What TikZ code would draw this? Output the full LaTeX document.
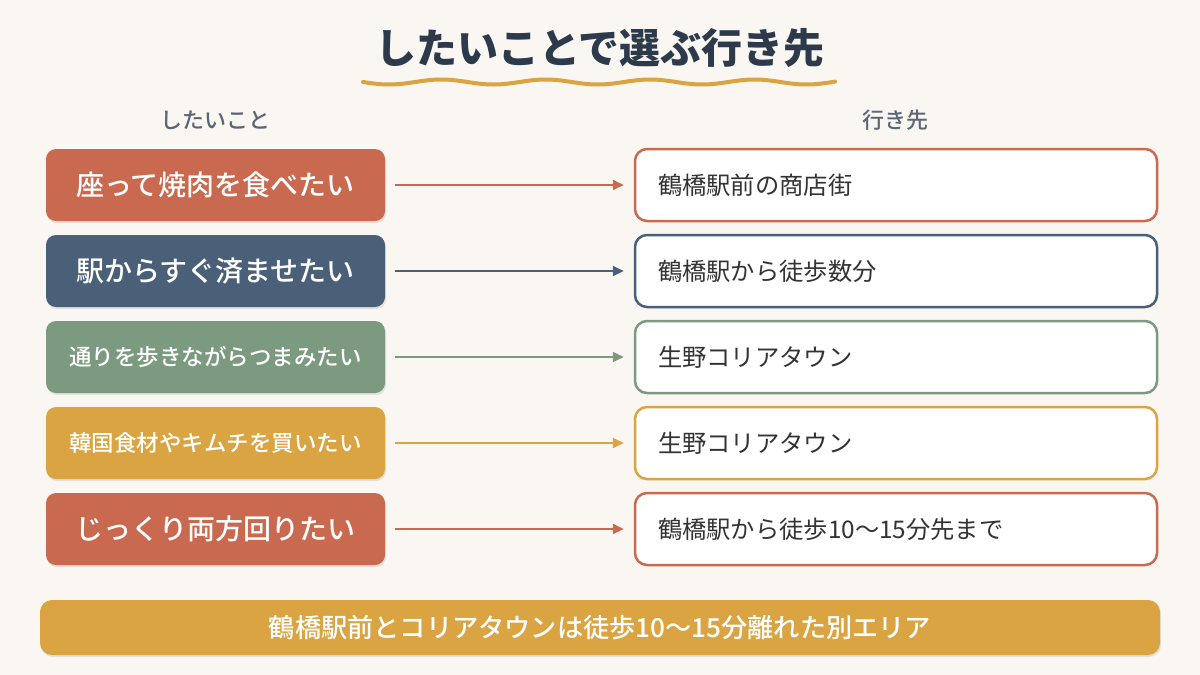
\documentclass[tikz,border=0pt]{standalone}
\usepackage{fontspec}
\setmainfont{Noto Sans CJK JP}
\newfontfamily\medfont{Noto Sans CJK JP}[UprightFont=* Medium]
\usetikzlibrary{shadows,arrows.meta}
\definecolor{bg}{HTML}{FAF6F1}
\definecolor{terra}{HTML}{C96A50}
\definecolor{slate}{HTML}{4A5F78}
\definecolor{sage}{HTML}{7B9A80}
\definecolor{gold}{HTML}{D9A441}
\definecolor{titlec}{HTML}{2C3A4B}
\definecolor{labelc}{HTML}{5A6676}
\definecolor{textc}{HTML}{333333}
\begin{document}
\begin{tikzpicture}[x=1pt,y=-1pt,
  lbox/.style={rounded corners=10pt, minimum width=339pt, minimum height=72pt, text=white, inner sep=0pt,
    drop shadow={opacity=0.18, shadow xshift=1pt, shadow yshift=-2pt}},
  big/.style={font=\fontsize{28}{32}\medfont},
  small/.style={font=\fontsize{22.5}{26}\medfont},
  rbox/.style={rounded corners=12pt, minimum width=522pt, minimum height=72pt, fill=white, line width=2.5pt,
    text width=476pt, align=left, inner xsep=23pt, inner ysep=0pt, text=textc, font=\fontsize{24.3}{27}\selectfont},
  arr/.style={line width=2pt, -{Triangle[length=11pt,width=10pt]}, shorten <=10pt, shorten >=10pt},
  colhead/.style={text=labelc, font=\fontsize{22}{25}\medfont}
]
\fill[bg] (0,0) rectangle (1200,675);
\useasboundingbox (0,0) rectangle (1200,675);

\node[text=titlec, font=\fontsize{41}{46}\selectfont\bfseries] (title) at (600,48) {したいことで選ぶ行き先};
\draw[gold, line width=4pt, line cap=round] plot[domain=363:835, samples=160, smooth] (\x, {82+2.5*sin((\x-363)*3.45)});

\node[colhead] (hl) at (215,120) {したいこと};
\node[colhead] (hr) at (895,120) {行き先};

\node[lbox, big, fill=terra] (l1) at (215.5,185) {座って焼肉を食べたい};
\node[lbox, big, fill=slate] (l2) at (215.5,271) {駅からすぐ済ませたい};
\node[lbox, small, fill=sage] (l3) at (215.5,357) {通りを歩きながらつまみたい};
\node[lbox, small, fill=gold] (l4) at (215.5,443) {韓国食材やキムチを買いたい};
\node[lbox, big, fill=terra] (l5) at (215.5,529) {じっくり両方回りたい};

\node[rbox, draw=terra] (r1) at (896,185) {鶴橋駅前の商店街};
\node[rbox, draw=slate] (r2) at (896,271) {鶴橋駅から徒歩数分};
\node[rbox, draw=sage] (r3) at (896,357) {生野コリアタウン};
\node[rbox, draw=gold] (r4) at (896,443) {生野コリアタウン};
\node[rbox, draw=terra] (r5) at (896,529) {鶴橋駅から徒歩10〜15分先まで};

\draw[arr, terra] (l1) -- (r1);
\draw[arr, slate] (l2) -- (r2);
\draw[arr, sage] (l3) -- (r3);
\draw[arr, gold] (l4) -- (r4);
\draw[arr, terra] (l5) -- (r5);

\node[rounded corners=12pt, fill=gold, minimum width=1120pt, minimum height=55pt, text=white, inner sep=0pt,
  font=\fontsize{26.2}{29}\medfont,
  drop shadow={opacity=0.18, shadow xshift=1pt, shadow yshift=-2pt}] (note) at (600,627.5)
  {鶴橋駅前とコリアタウンは徒歩10〜15分離れた別エリア};
\end{tikzpicture}
\end{document}
